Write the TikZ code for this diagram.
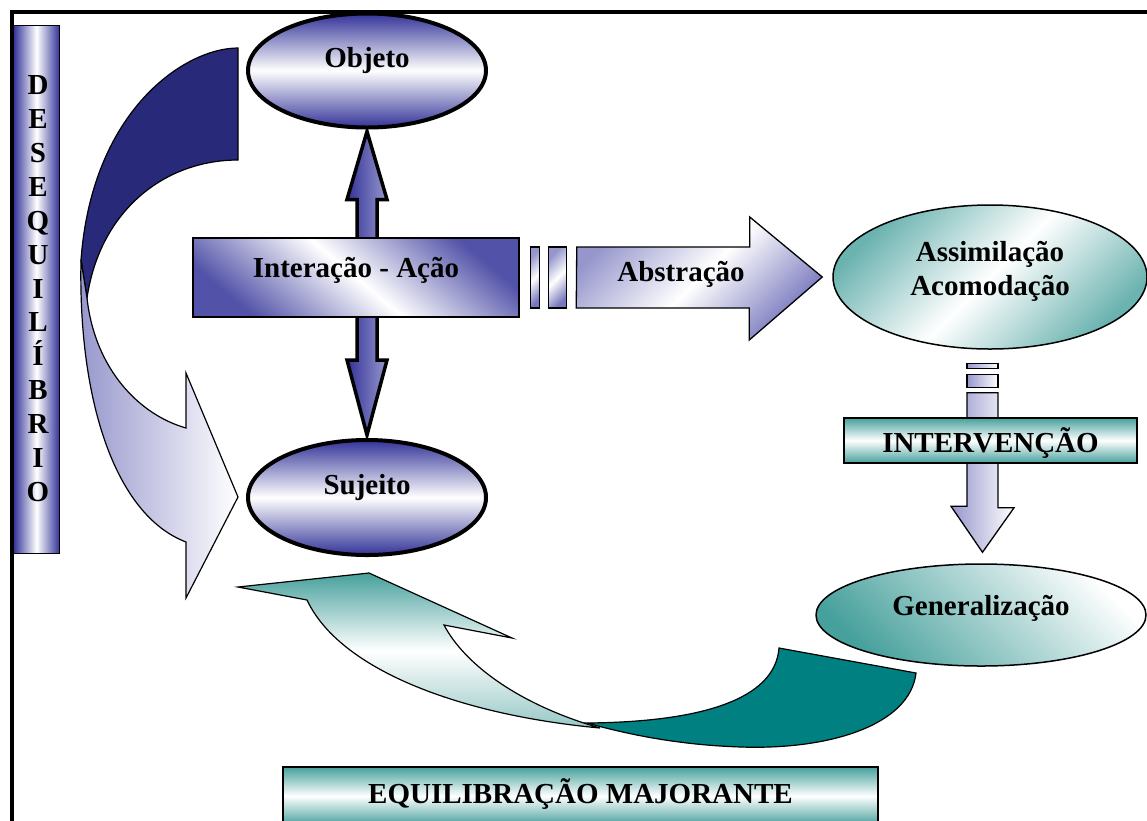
\documentclass[tikz,border=0pt]{standalone}
\usepackage{fontspec}
\setmainfont{Liberation Serif}
\usetikzlibrary{calc,shapes.geometric}

\definecolor{navy}{RGB}{51,51,153}
\definecolor{navydk}{RGB}{41,41,122}
\definecolor{lav}{RGB}{150,150,205}
\definecolor{tealdk}{RGB}{0,128,128}
\definecolor{tealmd}{RGB}{70,160,156}
\definecolor{teallt}{RGB}{150,200,197}

\begin{document}
\begin{tikzpicture}[x=1pt,y=-1pt,
  every node/.style={font=\bfseries\fontsize{29}{34}\selectfont},
  oval/.style={ellipse,draw,inner sep=0pt},
  navyoval/.style={oval,line width=4pt,top color=navy,bottom color=navy,middle color=white},
  tealbox/.style={draw,inner sep=0pt,top color=tealmd,bottom color=tealmd,middle color=white},
  stripe/.style={draw,line width=1.3pt,top color=lav,bottom color=lav!70!navy,middle color=white,shading angle=45},
  vstripe/.style={draw,line width=1.3pt,left color=lav,right color=white}]
  \useasboundingbox (0,0) rectangle (1147,820);
  \clip (0,0) rectangle (1147,820);
  % barra lateral
  \node[draw,line width=1pt,inner sep=0pt,anchor=north west,minimum width=46pt,minimum height=528pt,
        left color=navy,right color=navy,middle color=white] (deseq) at (13,25) {};
  \foreach \l [count=\i] in {D,E,S,E,Q,U,I,L,Í,B,R,I,O}
    \node[anchor=base] (deseq-\i) at (38,{60.7+33.9*\i}) {\l};
  \draw[line width=4pt] (1160,12) -- (12,12) -- (12,830);
  % seta curva azul (desequilibrio)
  \draw[line width=1.2pt,fill=navydk] (238,48) -- (238,160) .. controls (165,160) and (100,210) .. (87,298)
     -- (81,260) .. controls (92,110) and (185,48) .. (238,48) -- cycle;
  \draw[line width=1.2pt,left color=lav,right color=white] (81,260) .. controls (78,400) and (115,515) .. (186,542)
     -- (186,598) -- (238,497) -- (186,373) -- (186,428) .. controls (140,415) and (95,370) .. (87,298) -- cycle;
  % objeto / sujeito
  \node[navyoval,minimum width=238pt,minimum height=114pt,
        label={[name=objeto-txt,yshift=10pt]center:Objeto}] (objeto) at (367,70.5) {};
  \node[navyoval,minimum width=238pt,minimum height=115pt,
        label={[name=sujeito-txt,yshift=10pt]center:Sujeito}] (sujeito) at (367,497.5) {};
  \draw[line width=3.5pt,left color=navy,right color=lav] ($(objeto.south)+(0,2)$) -- ++(20,68) -- ++(-10,0)
     |- ($(sujeito.north)+(10,-78)$) -- ++(10,0) -- ($(sujeito.north)+(0,-3)$) -- ++(-20,-75) -- ++(10,0)
     |- ($(objeto.south)+(-10,70)$) -- ++(-10,0) -- cycle;
  \node[draw,line width=1.5pt,inner sep=0pt,minimum width=326pt,minimum height=79pt,text height=20pt,text depth=20pt,
        top color=navy!85!white,bottom color=navy!85!white,middle color=white,shading angle=-40] (interacao) at (356,277.5) {Interação - Ação};
  % abstracao
  \node[oval,line width=1.5pt,minimum width=314pt,minimum height=144pt,
        top color=tealmd!80!white,bottom color=tealmd!80!white,middle color=white,shading angle=45,
        label={[name=assim-txt,align=center,yshift=6pt]center:Assimilação\\Acomodação}] (assim) at (990,277) {};
  \coordinate (abs-tip) at ($(assim.west)+(-10,0)$);
  \draw[stripe] ($(interacao.east)+(11,-30.5)$) rectangle ++(9,61);
  \draw[stripe] ($(interacao.east)+(29,-30.5)$) rectangle ++(18,61);
  \draw[stripe] ($(interacao.east)+(57,-30.5)$) -- ++(173,0) -- ++(0,-30) -- (abs-tip) -- ++(-73,63)
     -- ++(0,-32) -- ++(-173,0) -- cycle;
  \node[anchor=base] (abstracao) at (681,281) {Abstração};
  % intervencao
  \node[oval,line width=1.5pt,minimum width=330pt,minimum height=102pt,
        top color=white,bottom color=tealmd,shading angle=-45,
        label={[name=gener-txt,yshift=7pt]center:Generalização}] (gener) at (981,615) {};
  \coordinate (int-tip) at ($(gener.north)+(1.5,-11)$);
  \draw[vstripe] ($(assim.south)+(-23,14)$) rectangle ++(31,5);
  \draw[vstripe] ($(assim.south)+(-23,25)$) rectangle ++(31,13);
  \draw[vstripe] ($(assim.south)+(-23,43)$) -- ++(31,0) -- ++(0,115) -- ++(16,0) -- (int-tip)
     -- ++(-31.5,-46) -- ++(16,0) -- cycle;
  \node[tealbox,line width=1.5pt,minimum width=293pt,minimum height=45pt,text height=24pt,text depth=0pt]
        (interv) at (990.5,440.5) {INTERVENÇÃO};
  % seta curva verde (equilibracao)
  \draw[line width=1.2pt,top color=tealmd,bottom color=teallt,middle color=white] (238,587) -- (369,573) -- (512,638)
     -- (444,625) .. controls (465,665) and (520,705) .. (600,728)
     .. controls (460,715) and (340,670) .. (307,600) -- cycle;
  \draw[line width=1.2pt,fill=tealdk] (587,723) .. controls (700,722) and (775,700) .. (779,648) -- (916,673)
     .. controls (910,725) and (830,750) .. (741,747) .. controls (680,745) and (630,735) .. (587,723) -- cycle;
  \node[tealbox,line width=2pt,minimum width=595pt,minimum height=58pt,text height=14pt,text depth=0pt]
        (equil) at (580.5,796) {EQUILIBRAÇÃO MAJORANTE};
\end{tikzpicture}
\end{document}
